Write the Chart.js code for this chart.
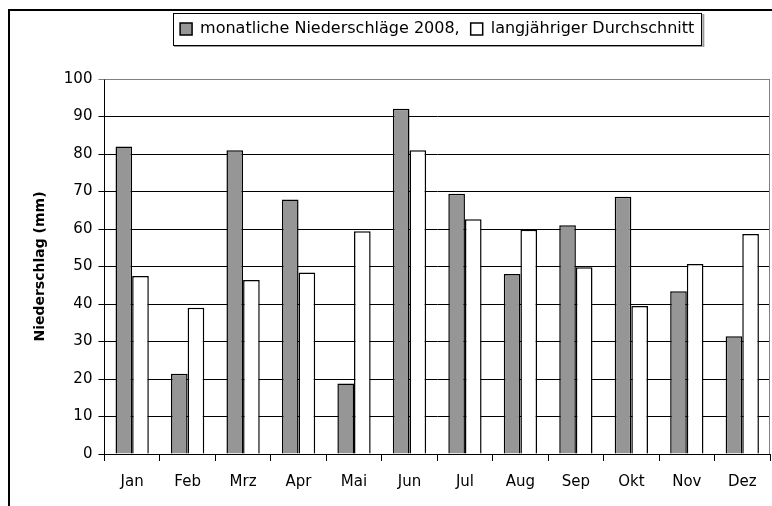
<!DOCTYPE html>
<html>
<head>
<meta charset="utf-8">
<script src="https://cdn.jsdelivr.net/npm/chart.js@4"></script>
<style>
  html, body { margin: 0; padding: 0; background: #fff; }
  #wrap { width: 772px; height: 506px; }
</style>
</head>
<body>
<div id="wrap"><canvas id="chart"></canvas></div>
<script>
// monthly precipitation
const months = ['Jan', 'Feb', 'Mrz', 'Apr', 'Mai', 'Jun', 'Jul', 'Aug', 'Sep', 'Okt', 'Nov', 'Dez'];
const rain2008 = [82, 21.4, 81, 67.9, 18.8, 92.1, 69.4, 48, 61, 68.6, 43.4, 31.4];
const longTerm = [47.5, 39, 46.4, 48.4, 59.4, 81, 62.6, 59.8, 49.8, 39.5, 50.7, 58.7];

const font = 'DejaVu Sans';

// more room under the legend
const legendGap = {
    id: 'legendGap',
    afterInit(chart) {
        const lg = chart.legend;
        const fit = lg.fit;
        lg.fit = function () {
            fit.call(this);
            this.height += 32;
        };
    }
};

// outer frame, plot border on top/right, box round the legend
const decor = {
    id: 'decor',
    afterDraw(chart) {
        const ctx = chart.ctx;
        const a = chart.chartArea;
        ctx.save();
        ctx.strokeStyle = '#000';
        ctx.lineWidth = 2;
        ctx.beginPath();
        ctx.moveTo(9, 506);
        ctx.lineTo(9, 10);
        ctx.lineTo(772, 10);
        ctx.stroke();

        ctx.strokeStyle = '#808080';
        ctx.lineWidth = 1;
        ctx.beginPath();
        ctx.moveTo(a.left, Math.round(a.top) + 0.5);
        ctx.lineTo(Math.round(a.right) - 0.5, Math.round(a.top) + 0.5);
        ctx.lineTo(Math.round(a.right) - 0.5, a.bottom);
        ctx.stroke();

        const boxes = chart.legend.legendHitBoxes;
        if (boxes && boxes.length) {
            let l = Infinity, r = -Infinity, t = Infinity, b = -Infinity;
            boxes.forEach(h => {
                l = Math.min(l, h.left); r = Math.max(r, h.left + h.width);
                t = Math.min(t, h.top); b = Math.max(b, h.top + h.height);
            });
            ctx.fillStyle = '#999';
            ctx.fillRect(l - 6, b + 8, r - l + 14, 2);
            ctx.fillRect(r + 8, t - 7, 2, b - t + 17);
            ctx.strokeStyle = '#000';
            ctx.strokeRect(Math.round(l - 7) + 0.5, Math.round(t - 8) + 0.5, Math.round(r - l + 14), Math.round(b - t + 16));
        }
        ctx.restore();
    }
};

new Chart(document.getElementById('chart').getContext('2d'), {
    type: 'bar',
    data: {
        labels: months,
        datasets: [
            {
                label: 'monatliche Niederschläge 2008,',
                data: rain2008,
                backgroundColor: '#969696',
                borderColor: '#000',
                borderWidth: 1.5
            },
            {
                label: 'langjähriger Durchschnitt',
                data: longTerm,
                backgroundColor: '#fff',
                borderColor: '#000',
                borderWidth: 1.5
            }
        ]
    },
    options: {
        responsive: true,
        maintainAspectRatio: false,
        animation: false,
        layout: { padding: { top: 10, right: 2, bottom: 3, left: 32 } },
        datasets: { bar: { categoryPercentage: 0.6, barPercentage: 1.0 } },
        plugins: {
            tooltip: { enabled: false },
            legend: {
                position: 'top',
                fullSize: false,
                align: 'center',
                labels: {
                    color: '#000',
                    font: { family: font, size: 16 },
                    boxWidth: 12,
                    boxHeight: 12,
                    padding: 11,
                    useBorderRadius: false
                }
            }
        },
        scales: {
            x: {
                grid: { drawOnChartArea: false, color: '#000', tickLength: 7 },
                border: { color: '#000', width: 1 },
                ticks: { color: '#000', font: { family: font, size: 15 }, padding: 12 }
            },
            y: {
                min: 0,
                max: 100,
                ticks: { stepSize: 10, color: '#000', font: { family: font, size: 15 }, padding: 6 },
                grid: {
                    color: c => (c.tick && c.tick.value === 100) ? '#808080' : '#000',
                    tickLength: 6
                },
                border: { color: '#000', width: 1 },
                title: {
                    display: true,
                    text: 'Niederschlag (mm)',
                    color: '#000',
                    font: { family: font, size: 14, weight: 'bold' },
                    padding: { top: 0, bottom: 9 }
                }
            }
        }
    },
    plugins: [legendGap, decor]
});
</script>
</body>
</html>
